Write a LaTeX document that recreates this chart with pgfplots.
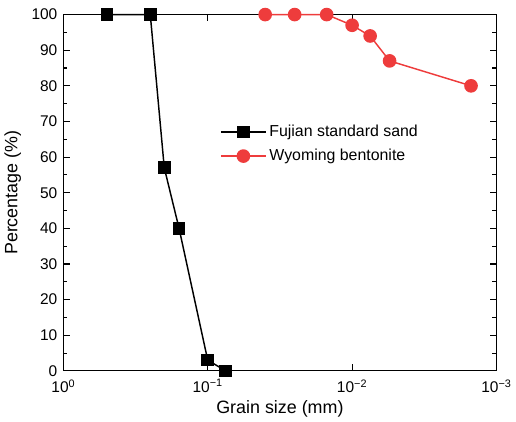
\documentclass[border=0pt]{standalone}
\usepackage{pgfplots}
\pgfplotsset{compat=1.18}
\usepackage{fontspec}
\setmainfont{Liberation Sans}
\definecolor{myred}{RGB}{238,60,60}
\begin{document}
\begin{tikzpicture}
\begin{axis}[
  scale only axis,
  width=327pt, height=269pt,
  xmode=log, x dir=reverse,
  xmin=1e-3, xmax=1,
  ymin=0, ymax=100,
  ytick={0,10,...,100},
  minor y tick num=1,
  xtick={1,0.1,0.01,0.001},
  xticklabels={10\textsuperscript{0},10\textsuperscript{−1},10\textsuperscript{−2},10\textsuperscript{−3}},
  tick align=inside,
  major tick length=5pt,
  minor tick length=3pt,
  tick style={black, line width=0.8pt},
  axis line style={line width=0.9pt},
  /pgf/number format/assume math mode=true,
  ticklabel style={font=\fontsize{11.7}{13}\selectfont},
  xticklabel style={yshift=-3pt},
  yticklabel style={xshift=-1pt},
  label style={font=\fontsize{13.5}{15}\selectfont},
  xlabel={Grain size (mm)},
  ylabel={Percentage (\%)},
  xlabel style={yshift=1pt},
  ylabel style={yshift=1pt},
  legend style={draw=none, fill=none, at={(0.352,0.705)}, anchor=north west, font=\fontsize{12}{14}\selectfont, row sep=4pt},
  legend cell align=left,
  legend image code/.code={\draw[mark repeat=2,mark phase=2] plot coordinates {(0cm,0cm) (0.6cm,0cm) (1.2cm,0cm)};},
  clip=false,
]
\addplot[black, line width=1.1pt, mark=square*, mark size=4.2pt] coordinates {
(0.5,100) (0.25,100) (0.2,57) (0.158,40) (0.1,3) (0.075,0)
};
\addlegendentry{Fujian standard sand}
\addplot[myred, line width=1.1pt, mark=*, mark size=4.6pt] coordinates {
(0.04,100) (0.025,100) (0.015,100) (0.01,97) (0.0075,94) (0.0055,87) (0.0015,80)
};
\addlegendentry{Wyoming bentonite}
\end{axis}
\path (current axis.north east) ++(11pt,11pt);
\end{tikzpicture}
\end{document}
